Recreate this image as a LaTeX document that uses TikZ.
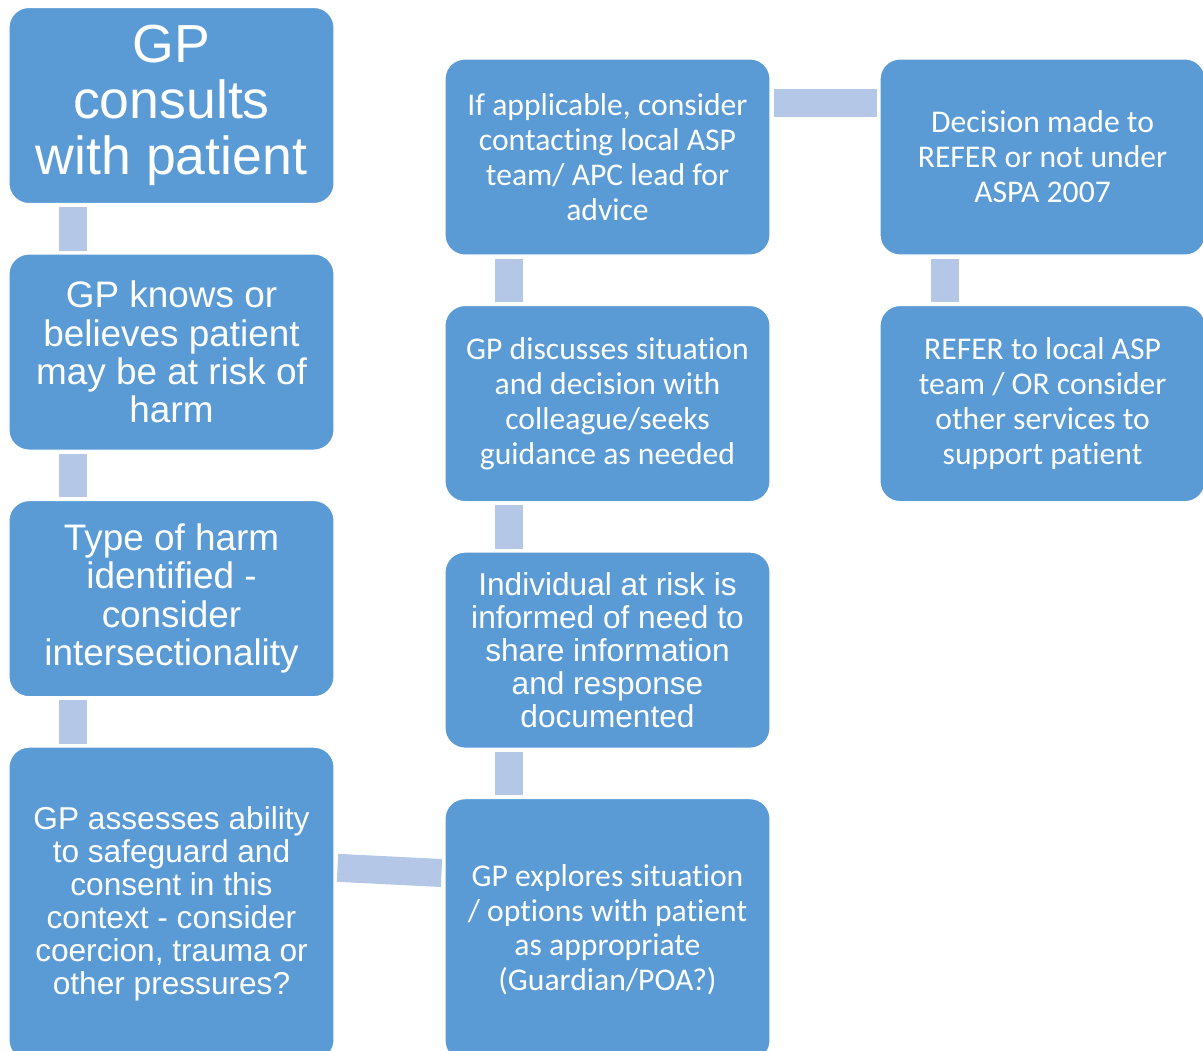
\documentclass[tikz,border=0pt]{standalone}
\usepackage{fontspec}
\setmainfont{Carlito}[Ligatures=NoCommon]
\newfontfamily\arialfont{Liberation Sans}
\usetikzlibrary{positioning,calc}
\definecolor{boxblue}{HTML}{5B9BD5}
\definecolor{linkblue}{HTML}{B4C7E7}
\tikzset{
  stepbox/.style={
    rectangle, rounded corners=0.4cm, draw=white, line width=0.6pt,
    fill=boxblue, text=white, align=center, inner sep=0pt,
    minimum width=6.5cm, minimum height=3.92cm
  },
  titlebox/.style={
    stepbox, font=\arialfont\fontsize{30.5}{31.8}\selectfont
  },
  armbox/.style={
    stepbox, font=\arialfont\fontsize{21}{21.9}\selectfont
  },
  armsmall/.style={
    stepbox, font=\arialfont\fontsize{18}{18.7}\selectfont
  },
  calbox/.style={
    stepbox, font=\fontsize{18}{19.9}\selectfont
  },
  link/.style={
    draw=linkblue, line width=0.56cm, shorten <=1.7pt, shorten >=1.7pt
  }
}

\begin{document}
\begin{tikzpicture}[x=0.2mm, y=-0.2mm, node distance=0.99cm and 2.18cm]
\useasboundingbox (0,0) rectangle (1203,1050);
\clip (0,0) rectangle (1203,1050);

% left column
\node[titlebox] (b1) at (171.5,105.5) {GP\\consults\\with patient};
\node[armbox, below=of b1] (b2) {GP knows or\\believes patient\\may be at risk of\\harm};
\node[armbox, below=of b2] (b3) {Type of harm\\identified -\\consider\\intersectionality};
\node[armsmall, below=of b3, minimum height=6.26cm] (b4) {GP assesses ability\\to safeguard and\\consent in this\\context - consider\\coercion, trauma or\\other pressures?};

% middle column
\node[calbox] (m1) at (607.5,157) {If applicable, consider\\contacting local ASP\\team/ APC lead for\\advice};
\node[calbox, below=of m1] (m2) {GP discusses situation\\and decision with\\colleague/seeks\\guidance as needed};
\node[armsmall, below=of m2] (m3) {Individual at risk is\\informed of need to\\share information\\and response\\documented};
\node[calbox, below=of m3, minimum height=5.24cm] (m4) {GP explores situation\\/ options with patient\\as appropriate\\(Guardian/POA?)};

% right column
\node[calbox, right=of m1] (r1) {Decision made to\\REFER or not under\\ASPA 2007};
\node[calbox, below=of r1] (r2) {REFER to local ASP\\team / OR consider\\other services to\\support patient};

\foreach \a/\b in {b1/b2,b2/b3,b3/b4,m1/m2,m2/m3,m3/m4,r1/r2}
  \draw[link] ($(\a.south west)+(65,0)$) -- ($(\b.north west)+(65,0)$);
\draw[link] ($(b4.north east)+(0,121)$) -- ($(m4.north west)+(0,75)$);
\draw[link] ($(m1.north east)+(0,45)$) -- ($(r1.north west)+(0,45)$);
\end{tikzpicture}
\end{document}
